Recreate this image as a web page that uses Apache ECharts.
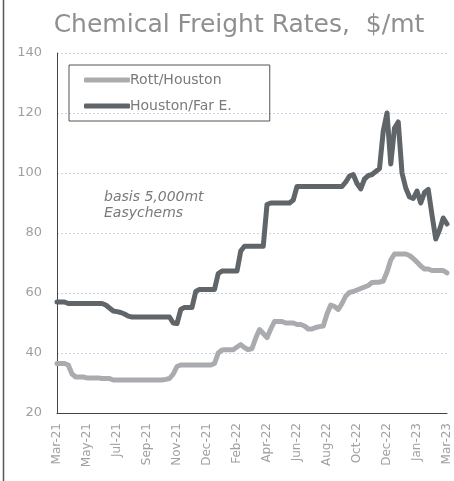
<!DOCTYPE html>
<html>
<head>
<meta charset="utf-8">
<script src="https://cdn.jsdelivr.net/npm/echarts@6/dist/echarts.min.js"></script>
<style>
html,body{margin:0;padding:0;background:#fff;}
#chart{width:454px;height:481px;}
</style>
</head>
<body>
<div id="chart"></div>
<script>
// Weekly observations, starting Fri 26 Mar 2021 (105 weeks to Mar 2023)
var startDate = [2021, 2, 26];
var weekCount = 105;
var monthNames = ['Jan','Feb','Mar','Apr','May','Jun','Jul','Aug','Sep','Oct','Nov','Dec'];

var seriesNames = ['Rott/Houston', 'Houston/Far E.'];

var rottHouston = [
  36.5, 36.5, 36.5, 36, 33,
  32, 32, 32, 31.7, 31.7, 31.7, 31.7, 31.5, 31.5, 31.5,
  31, 31, 31, 31, 31, 31, 31, 31, 31, 31, 31, 31, 31, 31,
  31.2, 31.5, 33, 35.5,
  36, 36, 36, 36, 36, 36, 36, 36, 36,
  36.5, 40, 41, 41.1, 41.1, 41.1, 42, 42.8, 41.8, 41.1, 41.5, 45, 47.8, 46.5, 45.1, 48, 50.5,
  50.5, 50.5, 50, 50, 50, 49.5,
  49.5, 49, 48, 48, 48.5, 48.8, 49,
  53, 56, 55.5, 54.5, 56.5, 59, 60.2, 60.5, 61, 61.5,
  62, 62.5, 63.5, 63.6, 63.6, 64, 67, 71, 73, 73,
  73, 73, 72.5, 71.5, 70.3, 69, 68, 68, 67.5, 67.5,
  67.5, 67.5, 66.7
];

var houstonFarEast = [
  57, 57, 57, 56.5, 56.5, 56.5, 56.5, 56.5, 56.5, 56.5, 56.5, 56.5, 56.5, 56,
  55, 54, 53.8, 53.5, 53, 52.3,
  52, 52, 52, 52, 52, 52, 52, 52, 52, 52, 52,
  50, 49.8, 54.5,
  55.2, 55.2, 55.2,
  60.5,
  61.2, 61.2, 61.2, 61.2, 61.2,
  66.5,
  67.3, 67.3, 67.3, 67.3, 67.3,
  74,
  75.6, 75.6, 75.6, 75.6, 75.6, 75.6,
  89.5,
  90, 90, 90, 90, 90, 90,
  91,
  95.5, 95.5, 95.5, 95.5, 95.5, 95.5, 95.5, 95.5, 95.5, 95.5, 95.5, 95.5, 95.5,
  97, 99, 99.5, 96.5, 94.7, 98, 99.1, 99.5, 100.5, 101.5,
  114, 120, 103, 115, 117, 100, 95, 92, 91.5, 94,
  90, 93.5, 94.5, 86, 78, 81, 85, 83
];

var yMin = 20, yMax = 140, yStep = 20;

var categories = [];
(function () {
  var d0 = new Date(Date.UTC(startDate[0], startDate[1], startDate[2]));
  for (var i = 0; i < weekCount; i++) {
    var d = new Date(d0.getTime() + i * 7 * 86400000);
    categories.push(monthNames[d.getUTCMonth()] + '-' + String(d.getUTCFullYear()).slice(2));
  }
})();

var FONT = '"DejaVu Sans", sans-serif';
var chart = echarts.init(document.getElementById('chart'));
chart.setOption({
  animation: false,
  backgroundColor: '#ffffff',
  title: {
    text: 'Chemical Freight Rates,  $/mt',
    left: 234,
    textAlign: 'center',
    top: 8,
    textStyle: {fontFamily: FONT, fontSize: 25, fontWeight: 'normal', color: '#8f8f8f'}
  },
  legend: {
    orient: 'vertical',
    left: 69,
    top: 65,
    padding: [8, 38, 8, 15],
    itemGap: 12,
    itemWidth: 46,
    itemHeight: 5,
    icon: 'roundRect',
    borderColor: '#555',
    borderWidth: 1,
    borderRadius: 0,
    selectedMode: false,
    data: seriesNames,
    textStyle: {fontFamily: FONT, fontSize: 14, color: '#7a7a7a', padding: [0, 0, 0, -5]}
  },
  grid: {left: 57, right: 7, top: 53, bottom: 68, containLabel: false},
  xAxis: {
    type: 'category',
    data: categories,
    boundaryGap: false,
    axisLine: {lineStyle: {color: '#444', width: 1}},
    axisTick: {show: false},
    axisLabel: {
      interval: 7,
      rotate: 90,
      margin: 10,
      fontFamily: FONT,
      fontSize: 12,
      color: '#a0a0a0'
    },
    splitLine: {show: false}
  },
  yAxis: {
    type: 'value',
    min: yMin,
    max: yMax,
    interval: yStep,
    axisLine: {show: true, lineStyle: {color: '#444', width: 1}},
    axisTick: {show: false},
    axisLabel: {margin: 15, fontFamily: FONT, fontSize: 13, color: '#a0a0a0'},
    splitLine: {show: true, lineStyle: {color: '#cfd0ea', type: [2, 2], width: 1}}
  },
  series: [
    {
      name: seriesNames[0],
      type: 'line',
      data: rottHouston,
      showSymbol: false,
      symbol: 'none',
      lineStyle: {color: '#a9abae', width: 5, join: 'round', cap: 'round'},
      itemStyle: {color: '#a9abae'},
      z: 2
    },
    {
      name: seriesNames[1],
      type: 'line',
      data: houstonFarEast,
      showSymbol: false,
      symbol: 'none',
      lineStyle: {color: '#5f6569', width: 5, join: 'round', cap: 'round'},
      itemStyle: {color: '#5f6569'},
      z: 3
    }
  ],
  graphic: [
    {
      type: 'text',
      left: 104,
      top: 189,
      style: {
        text: 'basis 5,000mt\nEasychems',
        fontFamily: FONT,
        fontStyle: 'italic',
        fontSize: 14,
        lineHeight: 16,
        fill: '#7a7a7a',
        align: 'center',
        x: 55,
        width: 110
      }
    },
    {
      type: 'line',
      shape: {x1: 3.5, y1: 0, x2: 3.5, y2: 481},
      style: {stroke: '#555', lineWidth: 1.5}
    }
  ]
});
</script>
</body>
</html>
